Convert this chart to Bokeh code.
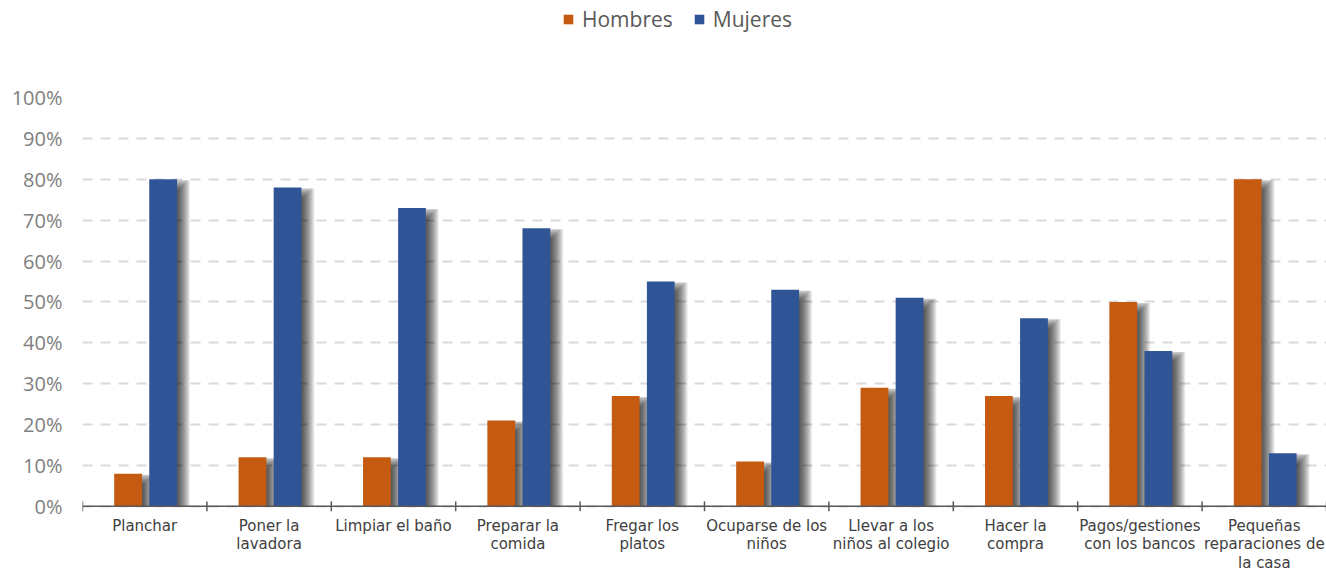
from bokeh.plotting import figure
from bokeh.layouts import column
from bokeh.models import (Range1d, FixedTicker, Span, Legend, LegendItem,
                          ColumnDataSource, PrintfTickFormatter)
from bokeh.embed import file_html
from bokeh.resources import INLINE

# ---- data ----
categories = [
    "Planchar",
    "Poner la\nlavadora",
    "Limpiar el baño",
    "Preparar la\ncomida",
    "Fregar los\nplatos",
    "Ocuparse de los\nniños",
    "Llevar a los\nniños al colegio",
    "Hacer la\ncompra",
    "Pagos/gestiones\ncon los bancos",
    "Pequeñas\nreparaciones de\nla casa",
]
hombres = [8, 12, 12, 21, 27, 11, 29, 27, 50, 80]
mujeres = [80, 78, 73, 68, 55, 53, 51, 46, 38, 13]
y_ticks = [0, 10, 20, 30, 40, 50, 60, 70, 80, 90, 100]
series_names = ["Hombres", "Mujeres"]
colors = ["#C55A11", "#2F5597"]

# ---- layout ----
W, H_TOTAL = 1326, 575
LEG_H = 40
H = H_TOTAL - LEG_H
LEFT, RIGHT, TOP, BOTTOM = 82, 0, 97 - LEG_H, 62
n = len(categories)
y0 = -1.5
frame_w = W - LEFT - RIGHT
frame_h = H - TOP - BOTTOM
px_x = n / frame_w
px_y = (100 - y0) / frame_h

p = figure(width=W, height=H, output_backend="svg", toolbar_location=None,
           x_range=Range1d(0, n), y_range=Range1d(y0, 100),
           min_border_left=LEFT, min_border_right=RIGHT,
           min_border_top=TOP, min_border_bottom=BOTTOM)
p.outline_line_color = None
p.background_fill_color = "white"
p.border_fill_color = "white"

# grid
p.xgrid.visible = False
p.ygrid.ticker = FixedTicker(ticks=y_ticks)
p.ygrid.grid_line_color = "#d9d9d9"
p.ygrid.grid_line_width = 2
p.ygrid.grid_line_dash = "10 8"

# bars geometry (fractions of a category slot)
offsets = [(0.255, 0.478), (0.537, 0.760)]
series = [hombres, mujeres]

# soft drop shadows (layered translucent rectangles)
DX, DY = 6, 6
for vals, (a, b) in zip(series, offsets):
    for e in range(7, -6, -1):
        left = [i + a + max(DX - e, 0) * px_x for i in range(n)]
        right = [i + b + (DX + e) * px_x for i in range(n)]
        top = [v - max(DY - e, 1) * px_y for v in vals]
        src = ColumnDataSource(dict(left=left, right=right, top=top,
                                    bottom=[0] * n))
        p.quad(left="left", right="right", top="top", bottom="bottom",
               source=src, fill_color="black", fill_alpha=0.075,
               line_color=None)

for vals, (a, b), c in zip(series, offsets, colors):
    src = ColumnDataSource(dict(left=[i + a for i in range(n)],
                                right=[i + b for i in range(n)],
                                top=vals, bottom=[0] * n))
    p.quad(left="left", right="right", top="top", bottom="bottom",
           source=src, fill_color=c, line_color=None)

# x axis line and boundary ticks
p.add_layout(Span(location=0, dimension="width", line_color="#595959",
                  line_width=1.5))
p.segment(x0=list(range(n + 1)), x1=list(range(n + 1)),
          y0=[-5 * px_y] * (n + 1), y1=[5 * px_y] * (n + 1),
          line_color="#595959", line_width=1.5)

# y axis
yax = p.yaxis[0]
yax.ticker = FixedTicker(ticks=y_ticks)
yax.formatter = PrintfTickFormatter(format="%d%%")
yax.axis_line_color = None
yax.major_tick_line_color = None
yax.minor_tick_line_color = None
yax.major_tick_out = 0
yax.major_label_standoff = 20
yax.major_label_text_font = "Open Sans"
yax.major_label_text_font_size = "20px"
yax.major_label_text_color = "#808080"

# x axis
xax = p.xaxis[0]
centers = [i + 0.5 for i in range(n)]
xax.ticker = FixedTicker(ticks=centers)
xax.major_label_overrides = {c: lab for c, lab in zip(centers, categories)}
xax.axis_line_color = None
xax.major_tick_line_color = None
xax.minor_tick_line_color = None
xax.major_tick_out = 0
xax.major_label_standoff = 4
xax.major_label_text_font = "DejaVu Sans"
xax.major_label_text_font_size = "15px"
xax.major_label_text_color = "#404040"
xax.major_label_text_line_height = 1.05

# ---- legend strip on top ----
lg = figure(width=W, height=LEG_H, output_backend="svg", toolbar_location=None,
            x_range=Range1d(0, 1), y_range=Range1d(0, 1),
            min_border_left=0, min_border_right=0,
            min_border_top=0, min_border_bottom=0)
lg.axis.visible = False
lg.grid.visible = False
lg.outline_line_color = None
items = []
for s, c in zip(series_names, colors):
    r = lg.quad(left=[2], right=[3], top=[2], bottom=[3],
                fill_color=c, line_color=None)
    items.append(LegendItem(label=s, renderers=[r]))
legend = Legend(items=items, location=(480, 7), orientation="horizontal",
                padding=0, margin=0, spacing=20, label_standoff=8,
                border_line_color=None, background_fill_alpha=0,
                label_text_font="Open Sans", label_text_font_size="21px",
                label_text_color="#595959", glyph_width=12, glyph_height=12)
lg.add_layout(legend)

layout = column(lg, p, spacing=0)
open("out.html", "w").write(file_html(layout, INLINE))
